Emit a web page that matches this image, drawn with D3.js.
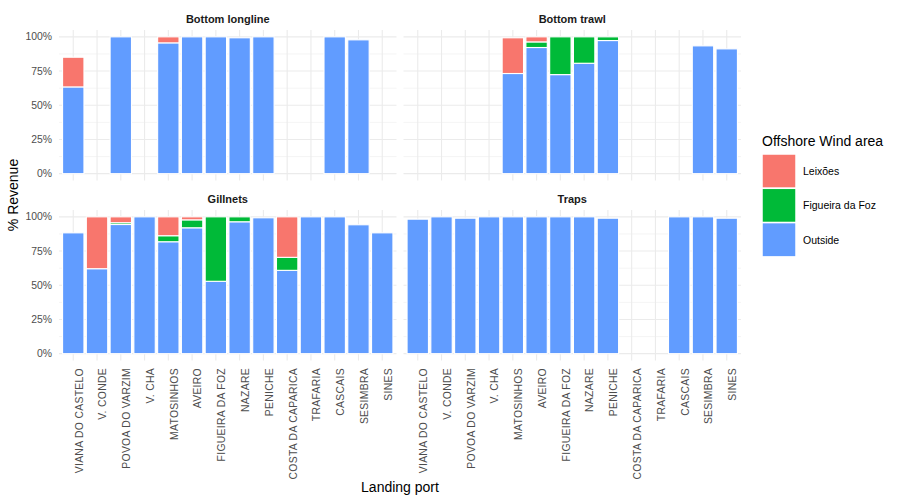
<!DOCTYPE html>
<html>
<head>
<meta charset="utf-8">
<script src="https://cdn.jsdelivr.net/npm/d3@7"></script>
<style>
  body { margin: 0; background: #fff; }
  text { font-family: "Liberation Sans", Arial, sans-serif; }
</style>
</head>
<body>
<svg width="900" height="500"></svg>
<script>
// categories
const ports = ['VIANA DO CASTELO', 'V. CONDE', 'POVOA DO VARZIM', 'V. CHA', 'MATOSINHOS', 'AVEIRO',
  'FIGUEIRA DA FOZ', 'NAZARE', 'PENICHE', 'COSTA DA CAPARICA', 'TRAFARIA', 'CASCAIS', 'SESIMBRA', 'SINES'];
const gears = ['Bottom longline', 'Bottom trawl', 'Gillnets', 'Traps'];
const areas = ['Leixões', 'Figueira da Foz', 'Outside'];
const yTicks = [0, 25, 50, 75, 100];

// % revenue per port (null = no landings)
const longlineOutside  = [63.4, null, 100, null, 95.6, 100, 100, 99.3, 100, null, null, 100, 97.8, null];
const longlineFigueira = [0, null, 0, null, 0, 0, 0, 0, 0, null, null, 0, 0, null];
const longlineLeixoes  = [21.7, null, 0, null, 4.4, 0, 0, 0, 0, null, null, 0, 0, null];

const trawlOutside  = [null, null, null, null, 73.2, 92.2, 72.4, 80.7, 97.3, null, null, null, 93.4, 91.2];
const trawlFigueira = [null, null, null, null, 0, 4.1, 27.6, 19.3, 2.7, null, null, null, 0, 0];
const trawlLeixoes  = [null, null, null, null, 26.1, 3.7, 0, 0, 0, null, null, null, 0, 0];

const gillOutside  = [88.3, 62.1, 94.4, 100, 81.8, 92.0, 52.9, 96.4, 99.3, 60.9, 100, 100, 94.2, 88.3];
const gillFigueira = [0, 0, 1.3, 0, 4.4, 5.8, 47.1, 3.6, 0, 9.5, 0, 0, 0, 0];
const gillLeixoes  = [0, 37.9, 4.3, 0, 13.8, 2.2, 0, 0, 0, 29.6, 0, 0, 0, 0];

const trapsOutside  = [98.3, 100, 99, 100, 100, 100, 100, 100, 99, null, null, 100, 100, 99];
const trapsFigueira = [0, 0, 0, 0, 0, 0, 0, 0, 0, null, null, 0, 0, 0];
const trapsLeixoes  = [0, 0, 0, 0, 0, 0, 0, 0, 0, null, null, 0, 0, 0];

const gearData = {
  'Bottom longline': { 'Outside': longlineOutside, 'Figueira da Foz': longlineFigueira, 'Leixões': longlineLeixoes },
  'Bottom trawl':    { 'Outside': trawlOutside, 'Figueira da Foz': trawlFigueira, 'Leixões': trawlLeixoes },
  'Gillnets':        { 'Outside': gillOutside, 'Figueira da Foz': gillFigueira, 'Leixões': gillLeixoes },
  'Traps':           { 'Outside': trapsOutside, 'Figueira da Foz': trapsFigueira, 'Leixões': trapsLeixoes }
};

const colors = { 'Leixões': '#F8766D', 'Figueira da Foz': '#00BA38', 'Outside': '#619CFF' };

const svg = d3.select('svg');

// facet layout
const panelW = 337.5, panelH = 150.5;
const panels = [
  { gear: 'Bottom longline', x0: 59,    y0: 30,  left: true,  bottom: false },
  { gear: 'Bottom trawl',    x0: 403.5, y0: 30,  left: false, bottom: false },
  { gear: 'Gillnets',        x0: 59,    y0: 210, left: true,  bottom: true },
  { gear: 'Traps',           x0: 403.5, y0: 210, left: false, bottom: true }
];

panels.forEach(p => {
  const xScale = d3.scaleBand()
    .domain(ports)
    .range([p.x0, p.x0 + panelW])
    .paddingInner(0.1)
    .paddingOuter(0.15);

  const yScale = d3.scaleLinear()
    .domain([-5, 105])
    .range([p.y0 + panelH, p.y0]);

  const g = svg.append('g');

  // minor grid
  g.selectAll('.minor').data([12.5, 37.5, 62.5, 87.5])
    .enter().append('line')
      .attr('x1', p.x0).attr('x2', p.x0 + panelW)
      .attr('y1', d => yScale(d)).attr('y2', d => yScale(d))
      .attr('stroke', '#ebebeb').attr('stroke-width', 0.55);

  // major grid
  g.selectAll('.major').data(yTicks)
    .enter().append('line')
      .attr('x1', p.x0).attr('x2', p.x0 + panelW)
      .attr('y1', d => yScale(d)).attr('y2', d => yScale(d))
      .attr('stroke', '#ebebeb').attr('stroke-width', 1.1);

  g.selectAll('.vgrid').data(ports)
    .enter().append('line')
      .attr('x1', d => xScale(d) + xScale.bandwidth() / 2)
      .attr('x2', d => xScale(d) + xScale.bandwidth() / 2)
      .attr('y1', p.y0).attr('y2', p.y0 + panelH)
      .attr('stroke', '#ebebeb').attr('stroke-width', 1.1);

  // stacked bars: Outside at the bottom, then Figueira da Foz, then Leixões
  const series = gearData[p.gear];
  const segs = [];
  ports.forEach((port, i) => {
    if (series['Outside'][i] === null) return;
    let base = 0;
    ['Outside', 'Figueira da Foz', 'Leixões'].forEach(a => {
      const v = series[a][i];
      if (v > 0) segs.push({ port, area: a, y0: base, y1: base + v });
      base += v;
    });
  });

  g.selectAll('.bar').data(segs)
    .enter().append('rect')
      .attr('x', d => xScale(d.port))
      .attr('width', xScale.bandwidth())
      .attr('y', d => yScale(d.y1))
      .attr('height', d => yScale(d.y0) - yScale(d.y1))
      .attr('fill', d => colors[d.area])
      .attr('stroke', 'white')
      .attr('stroke-width', 1.1);

  // strip title
  svg.append('text')
    .attr('x', p.x0 + panelW / 2)
    .attr('y', p.y0 - 11)
    .attr('text-anchor', 'middle')
    .attr('dominant-baseline', 'central')
    .attr('font-size', '11px')
    .attr('font-weight', 'bold')
    .attr('fill', '#1a1a1a')
    .text(p.gear);

  if (p.left) {
    svg.append('g').selectAll('text').data(yTicks)
      .enter().append('text')
        .attr('x', 52)
        .attr('y', d => yScale(d))
        .attr('text-anchor', 'end')
        .attr('dominant-baseline', 'central')
        .attr('font-size', '10.4px')
        .attr('fill', '#4d4d4d')
        .text(d => d + '%');
  }

  if (p.bottom) {
    svg.append('g').selectAll('text').data(ports)
      .enter().append('text')
        .attr('transform', d => `translate(${xScale(d) + xScale.bandwidth() / 2}, 368) rotate(-90)`)
        .attr('text-anchor', 'end')
        .attr('dy', '0.9em')
        .attr('font-size', '10.4px')
        .attr('letter-spacing', '0.3px')
        .attr('fill', '#4d4d4d')
        .text(d => d);
  }
});

// axis titles
svg.append('text')
  .attr('transform', 'translate(13, 195) rotate(-90)')
  .attr('text-anchor', 'middle')
  .attr('dominant-baseline', 'central')
  .attr('font-size', '14px')
  .attr('fill', 'black')
  .text('% Revenue');

svg.append('text')
  .attr('x', 400)
  .attr('y', 487)
  .attr('text-anchor', 'middle')
  .attr('dominant-baseline', 'central')
  .attr('font-size', '14px')
  .attr('fill', 'black')
  .text('Landing port');

// legend
const legend = svg.append('g');
legend.append('text')
  .attr('x', 762)
  .attr('y', 146)
  .attr('font-size', '14px')
  .attr('fill', 'black')
  .text('Offshore Wind area');

const keyStep = 34.3;
areas.forEach((a, i) => {
  legend.append('rect')
    .attr('x', 762)
    .attr('y', 154 + i * keyStep)
    .attr('width', 34)
    .attr('height', keyStep)
    .attr('fill', colors[a])
    .attr('stroke', 'white')
    .attr('stroke-width', 1.5);
  legend.append('text')
    .attr('x', 803)
    .attr('y', 154 + i * keyStep + keyStep / 2)
    .attr('dominant-baseline', 'central')
    .attr('font-size', '10.5px')
    .attr('fill', 'black')
    .text(a);
});
</script>
</body>
</html>
